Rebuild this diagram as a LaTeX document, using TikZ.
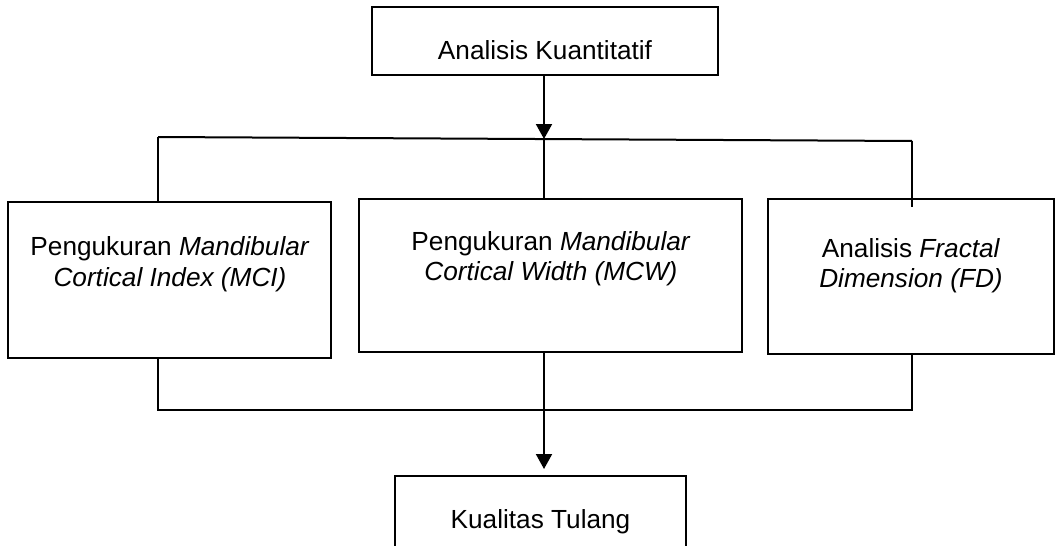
\documentclass[tikz,border=0pt]{standalone}
\usepackage{fontspec}
\setmainfont{Liberation Sans}
\usetikzlibrary{arrows.meta,calc}
\tikzset{
  boxnode/.style={draw=black, line width=1pt, rectangle, inner sep=0pt},
  txt/.style={anchor=base, inner sep=0pt, font=\fontsize{13.1pt}{15.3pt}\selectfont},
  conn/.style={draw=black, line width=1pt},
  arr/.style={conn, -{Triangle[width=8pt,length=7.5pt]}}
}
\begin{document}
\begin{tikzpicture}[x=0.5pt, y=-0.5pt]
\clip (0,0) rectangle (1056,546);
\useasboundingbox (0,0) rectangle (1056,546);
% boxes
\node[boxnode, minimum width=173pt, minimum height=34pt] (top) at (545,41) {};
\node[boxnode, minimum width=161.5pt, minimum height=78pt] (mci) at (169.5,279.5) {};
\node[boxnode, minimum width=191.5pt, minimum height=76.5pt] (mcw) at (550.5,275.5) {};
\node[boxnode, minimum width=143pt, minimum height=77.5pt] (fd) at (911,276.5) {};
\node[boxnode, minimum width=145.5pt, minimum height=60pt] (kual) at (540.5,536) {};
% texts
\node[txt] (topt) at (545,60) {Analisis Kuantitatif};
\node[txt] (mci1) at (170,255) {Pengukuran \textit{Mandibular}};
\node[txt] (mci2) at (170,286) {\textit{Cortical Index (MCI)}};
\node[txt] (mcw1) at (551,250) {Pengukuran \textit{Mandibular}};
\node[txt] (mcw2) at (551,280) {\textit{Cortical Width (MCW)}};
\node[txt] (fd1) at (911,257) {Analisis \textit{Fractal}};
\node[txt] (fd2) at (911,287) {\textit{Dimension (FD)}};
\node[txt] (kualt) at (540.5,528) {Kualitas Tulang};
% junction coordinates
\coordinate (hl) at (158,137);
\coordinate (hm) at (544,139);
\coordinate (hr) at (912,141);
\coordinate (rv) at (912,207);
\coordinate (bl) at (158,410);
\coordinate (bm) at (544,410);
\coordinate (br) at (912,410);
% connectors top
\draw[arr] (top.south -| hm) -- (hm);
\draw[conn] (hl) -- (hr);
\draw[conn] (hl) -- (hl |- mci.north);
\draw[conn] (hm) -- (hm |- mcw.north);
\draw[conn] (hr) -- (rv);
% connectors bottom
\draw[conn] (mci.south -| bl) -- (bl) -- (br) -- (fd.south -| br);
\draw[arr, shorten >=3pt] (mcw.south -| bm) -- (kual.north -| bm);
\end{tikzpicture}
\end{document}
